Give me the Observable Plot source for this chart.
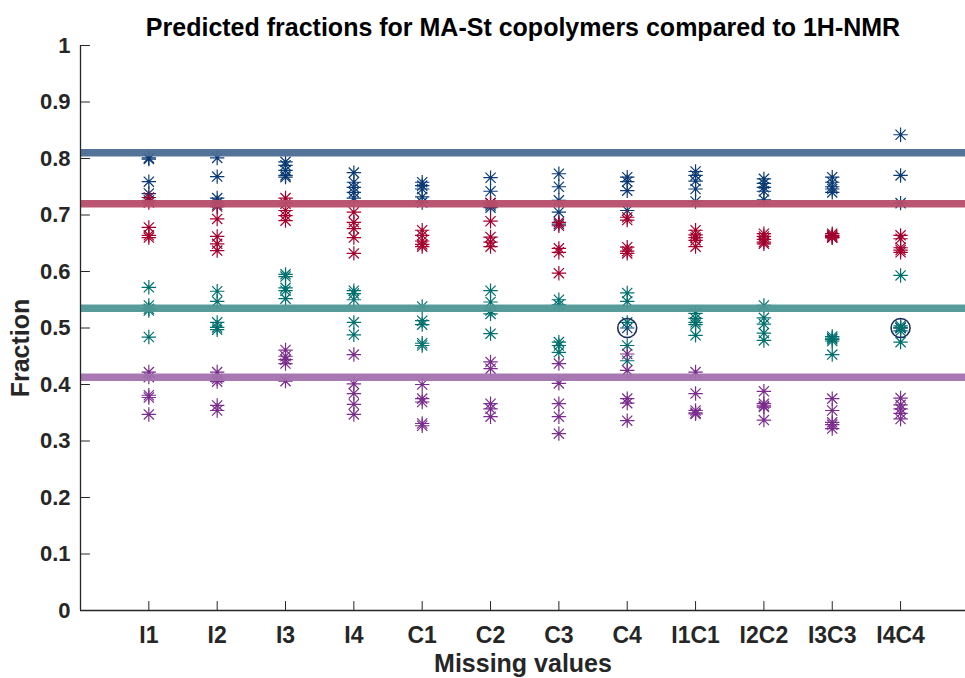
<!DOCTYPE html>
<html>
<head>
<meta charset="utf-8">
<script src="https://cdn.jsdelivr.net/npm/d3@7"></script>
<script src="https://cdn.jsdelivr.net/npm/@observablehq/plot@0.6"></script>
<style>
  body { margin: 0; background: #fff; }
  svg { display: block; }
</style>
</head>
<body>
<div id="chart"></div>
<script>
// ---------- data ----------
const titleText = "Predicted fractions for MA-St copolymers compared to 1H-NMR";
const xLabel = "Missing values";
const yLabel = "Fraction";
const categories = ["I1", "I2", "I3", "I4", "C1", "C2", "C3", "C4", "I1C1", "I2C2", "I3C3", "I4C4"];
const yTicks = [0, 0.1, 0.2, 0.3, 0.4, 0.5, 0.6, 0.7, 0.8, 0.9, 1];

// 1H-NMR reference fractions (horizontal lines)
const nmrLevels = [0.810, 0.720, 0.535, 0.413];

// predicted fractions, one inner list per category
const series1 = [
  [0.801, 0.799, 0.759, 0.738, 0.726],
  [0.801, 0.768, 0.730, 0.722, 0.718],
  [0.794, 0.788, 0.779, 0.770, 0.767],
  [0.775, 0.758, 0.749, 0.740, 0.730],
  [0.758, 0.752, 0.746, 0.732, 0.722],
  [0.766, 0.742, 0.721, 0.717, 0.713],
  [0.773, 0.750, 0.726, 0.705, 0.684],
  [0.767, 0.759, 0.743, 0.708, 0.500],
  [0.777, 0.770, 0.760, 0.746, 0.724],
  [0.764, 0.756, 0.749, 0.742, 0.727],
  [0.767, 0.758, 0.750, 0.746, 0.740],
  [0.842, 0.770, 0.721, 0.500, 0.500]
];
const series2 = [
  [0.731, 0.722, 0.678, 0.664, 0.660],
  [0.715, 0.693, 0.662, 0.649, 0.637],
  [0.730, 0.720, 0.708, 0.699, 0.690],
  [0.705, 0.687, 0.676, 0.660, 0.632],
  [0.673, 0.664, 0.654, 0.648, 0.644],
  [0.721, 0.689, 0.661, 0.652, 0.644],
  [0.687, 0.681, 0.641, 0.634, 0.597],
  [0.696, 0.691, 0.643, 0.636, 0.632],
  [0.673, 0.665, 0.660, 0.655, 0.644],
  [0.667, 0.662, 0.657, 0.652, 0.649],
  [0.667, 0.664, 0.662, 0.660, 0.660],
  [0.664, 0.658, 0.642, 0.638, 0.634]
];
const series3 = [
  [0.572, 0.540, 0.534, 0.531, 0.484],
  [0.565, 0.547, 0.510, 0.501, 0.497],
  [0.595, 0.591, 0.571, 0.566, 0.552],
  [0.566, 0.561, 0.550, 0.510, 0.488],
  [0.538, 0.513, 0.506, 0.473, 0.469],
  [0.566, 0.546, 0.531, 0.525, 0.490],
  [0.550, 0.541, 0.475, 0.469, 0.457],
  [0.562, 0.547, 0.510, 0.469, 0.442],
  [0.526, 0.517, 0.510, 0.506, 0.487],
  [0.540, 0.518, 0.507, 0.491, 0.478],
  [0.485, 0.482, 0.480, 0.477, 0.453],
  [0.593, 0.504, 0.501, 0.495, 0.475]
];
const series4 = [
  [0.422, 0.413, 0.381, 0.377, 0.347],
  [0.422, 0.410, 0.405, 0.363, 0.354],
  [0.461, 0.450, 0.444, 0.437, 0.406],
  [0.453, 0.401, 0.384, 0.365, 0.347],
  [0.400, 0.375, 0.369, 0.331, 0.327],
  [0.440, 0.428, 0.366, 0.357, 0.343],
  [0.437, 0.402, 0.366, 0.343, 0.313],
  [0.454, 0.425, 0.375, 0.367, 0.336],
  [0.422, 0.384, 0.354, 0.350, 0.348],
  [0.388, 0.366, 0.362, 0.360, 0.337],
  [0.375, 0.354, 0.333, 0.329, 0.322],
  [0.376, 0.364, 0.357, 0.349, 0.339]
];

// circled outliers
const outlierCats = ["C4", "I4C4"];
const outlierVals = [0.500, 0.500];

// ---------- styling ----------
const markerColors = ["#0b3a74", "#a3002e", "#00706e", "#7a2d8c"];
const lineColors = ["#4a6b94", "#b64d69", "#4e9696", "#a271ad"];
const ink = "#262626";
const font = "'Liberation Sans', Arial, Helvetica, sans-serif";

// ---------- build tables ----------
const allSeries = [series1, series2, series3, series4];
const points = [];
allSeries.forEach((s, si) => {
  s.forEach((vals, ci) => {
    vals.forEach(v => points.push({x: ci + 1, y: v, s: si}));
  });
});
const refRows = nmrLevels.map((v, i) => ({y: v, s: i}));
const outRows = outlierCats.map((c, i) => ({x: categories.indexOf(c) + 1, y: outlierVals[i]}));
const catPos = categories.map((c, i) => i + 1);

const asterisk = {
  draw(ctx, size) {
    const r = Math.sqrt(size / Math.PI);
    const d = r * Math.SQRT1_2;
    ctx.moveTo(-r, 0); ctx.lineTo(r, 0);
    ctx.moveTo(0, -r); ctx.lineTo(0, r);
    ctx.moveTo(-d, -d); ctx.lineTo(d, d);
    ctx.moveTo(-d, d); ctx.lineTo(d, -d);
  }
};
const tickShape = { draw(ctx, l) { ctx.moveTo(0, 0); ctx.lineTo(0, -l); } };

const chart = Plot.plot({
  width: 965,
  height: 678,
  marginLeft: 80,
  marginRight: 0,
  marginTop: 45,
  marginBottom: 68,
  style: { fontFamily: font, background: "#fff", color: ink },
  x: { domain: [0, 12.95], axis: null },
  y: { domain: [0, 1], axis: null },
  marks: [
    // predicted points
    ...allSeries.map((s, si) =>
      Plot.dot(points.filter(p => p.s === si), {
        x: "x", y: "y", symbol: asterisk, r: 7.2,
        stroke: markerColors[si], fill: "none", strokeWidth: 1.2
      })
    ),
    // NMR reference lines
    ...refRows.map(row =>
      Plot.ruleY([row.y], { stroke: lineColors[row.s], strokeWidth: 7.5, strokeOpacity: 0.95 })
    ),
    // circled outliers
    Plot.dot(outRows, { x: "x", y: "y", r: 9.5, stroke: "#1b2f5e", strokeWidth: 1.6, fill: "none" }),
    // axes lines
    Plot.ruleX([0], { stroke: ink, strokeWidth: 1.3 }),
    Plot.ruleY([0], { stroke: ink, strokeWidth: 1.3 }),
    // inward ticks
    Plot.vector(yTicks, { x: () => 0, y: d => d, length: 9, rotate: 90, anchor: "start", shape: tickShape, stroke: ink, strokeWidth: 1 }),
    Plot.vector(catPos, { x: d => d, y: () => 0, length: 9, rotate: 0, anchor: "start", shape: tickShape, stroke: ink, strokeWidth: 1 }),
    // tick labels
    Plot.axisY(yTicks, { tickSize: 0, tickPadding: 10, fontSize: 22, fontWeight: "bold", fill: ink,
      tickFormat: d => String(+d.toFixed(1)), label: null }),
    Plot.axisX(catPos, { tickSize: 0, tickPadding: 16, fontSize: 23, fontWeight: "bold", fill: ink,
      tickFormat: d => categories[d - 1], label: null }),
    // title and axis labels
    Plot.text([titleText], { frameAnchor: "top", lineAnchor: "middle", dy: -18, fontSize: 25, fontWeight: "bold", fill: "#000" }),
    Plot.text([xLabel], { frameAnchor: "bottom", lineAnchor: "middle", dy: 53, fontSize: 25, fontWeight: "bold", fill: ink }),
    Plot.text([yLabel], { frameAnchor: "left", textAnchor: "middle", lineAnchor: "middle", dx: -60, dy: 20, rotate: -90, fontSize: 25, fontWeight: "bold", fill: ink })
  ]
});
document.getElementById("chart").appendChild(chart);
</script>
</body>
</html>
